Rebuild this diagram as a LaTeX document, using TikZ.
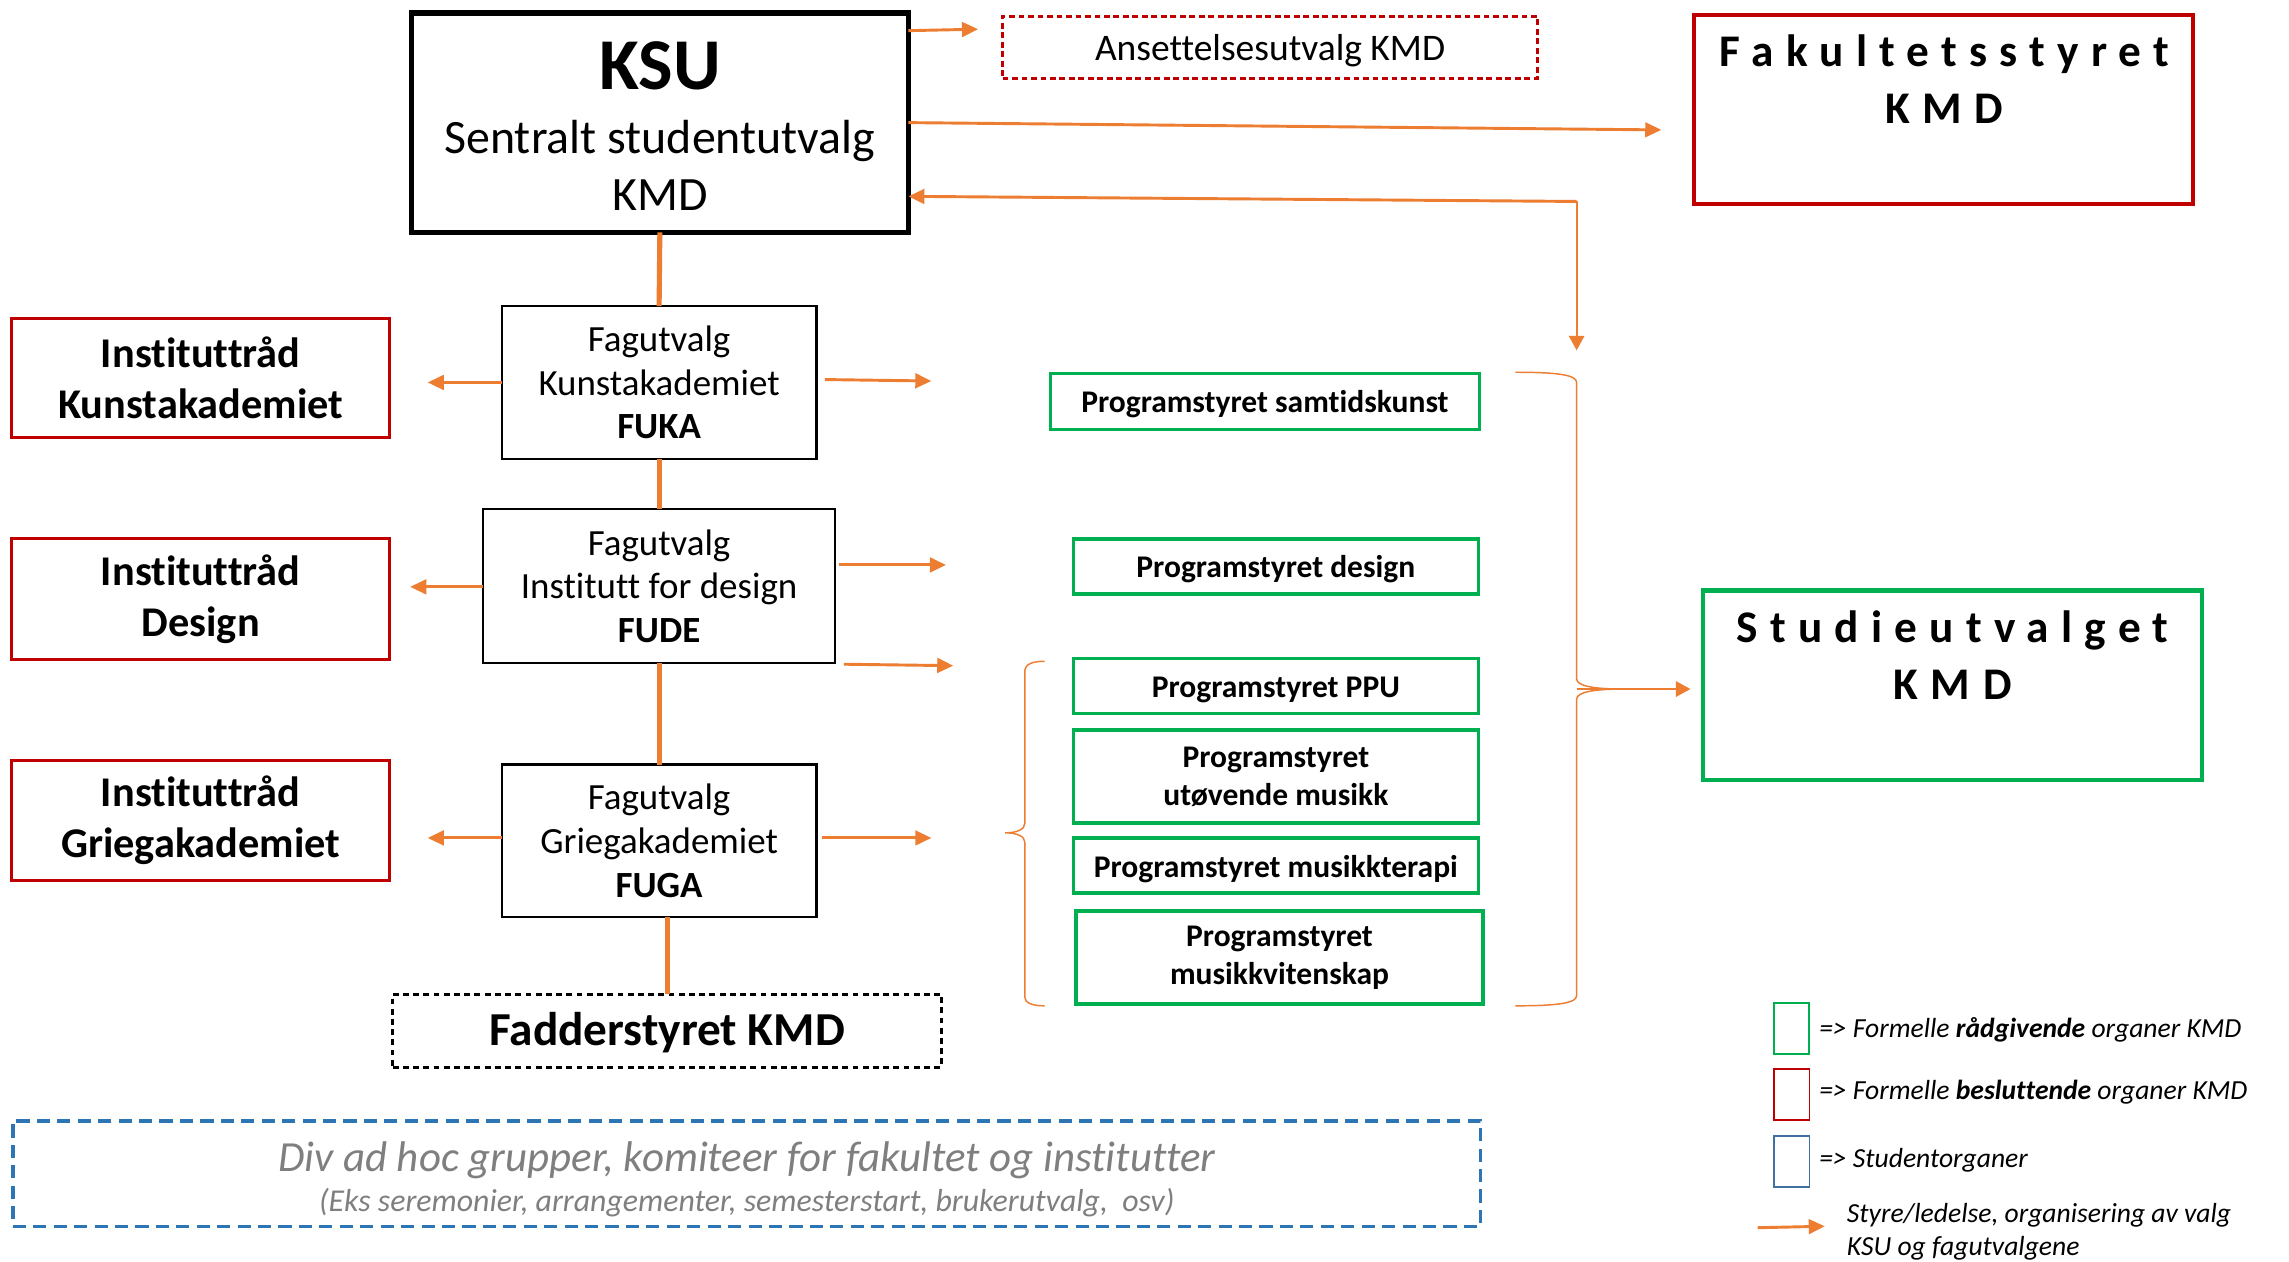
\documentclass[tikz,border=0pt]{standalone}
\usepackage{fontspec}
\setmainfont{Carlito}[Ligatures={NoCommon}]
\usetikzlibrary{arrows.meta,calc}
\definecolor{kor}{HTML}{ED7D31}
\definecolor{kred}{HTML}{C00000}
\definecolor{kgreen}{HTML}{00B050}
\definecolor{kblue}{HTML}{2E75B6}
\definecolor{lblue}{HTML}{41719C}
\definecolor{kgrey}{HTML}{7F7F7F}
\newcommand{\myfs}[2]{\fontsize{#1}{#2}\selectfont}
\begin{document}
\begin{tikzpicture}[x=1pt,y=-1pt,
  box/.style={draw,rectangle,inner sep=0pt,outer sep=0pt,align=center,anchor=center},
  ksubox/.style={box,line width=3.75pt,minimum width=340.5pt,minimum height=150.5pt},
  ansbox/.style={box,draw=kred,line width=1.5pt,dash pattern=on 4pt off 2.5pt,minimum width=366.5pt,minimum height=42.5pt,font=\myfs{25.7}{30},text height=21.5pt,text depth=3pt},
  bigred/.style={box,draw=kred,line width=2.75pt,minimum width=342pt,minimum height=129pt},
  biggreen/.style={box,draw=kgreen,line width=3pt,minimum width=342pt,minimum height=130pt},
  instbox/.style={box,draw=kred,line width=2pt,minimum width=259pt,minimum height=82pt,font=\myfs{29}{35}\bfseries},
  fagbox/.style={box,line width=1.5pt,minimum width=215.5pt,minimum height=104.5pt,font=\myfs{25.3}{30}},
  psbox/.style={box,draw=kgreen,line width=2.4pt,minimum width=277.6pt,minimum height=37.6pt,font=\myfs{21.6}{26}\bfseries},
  psone/.style={text height=17pt,text depth=1.3pt},
  link/.style={draw=kor,line width=3.5pt},
  arr/.style={draw=kor,line width=2pt,-{Triangle[length=11pt,width=10pt]}},
  arrthin/.style={draw=kor,line width=1.5pt,-{Triangle[length=10pt,width=10.5pt]}},
  bracestyle/.style={draw=kor,line width=1pt},
  legbox/.style={box,line width=1.3pt,minimum width=24pt,minimum height=35pt},
  legtext/.style={anchor=west,inner sep=0pt,font=\myfs{18.9}{22.5}\itshape,align=left}
]
\fill[white] (0,0) rectangle (1568,864);
\useasboundingbox (0,0) rectangle (1568,864);

% ---- top row
\node[ksubox] (ksu) at (452,84) {};
\node[anchor=base,inner sep=0pt,font=\myfs{50}{50}\bfseries] (ksut1) at (452,61) {KSU};
\node[anchor=base,inner sep=0pt,font=\myfs{32.8}{38}] (ksut2) at (452,105) {Sentralt studentutvalg};
\node[anchor=base,inner sep=0pt,font=\myfs{32.8}{38}] (ksut3) at (452,144) {KMD};

\node[ansbox] (ans) at (870,32.5) {Ansettelsesutvalg KMD};

\node[bigred] (fak) at (1331.5,75) {};
\node[anchor=base,inner sep=0pt,font=\myfs{31}{38}\bfseries\addfontfeatures{LetterSpace=27}] (fakt1) at (1332,45.7) {Fakultetsstyret};
\node[anchor=base,inner sep=0pt,font=\myfs{31}{38}\bfseries\addfontfeatures{LetterSpace=27}] (fakt2) at (1332,84.5) {KMD};

\node[biggreen] (stu) at (1337.5,469.5) {};
\node[anchor=base,inner sep=0pt,font=\myfs{31}{38}\bfseries\addfontfeatures{LetterSpace=27}] (stut1) at (1337.5,440) {Studieutvalget};
\node[anchor=base,inner sep=0pt,font=\myfs{31}{38}\bfseries\addfontfeatures{LetterSpace=28}] (stut2) at (1337.5,479) {KMD};

% ---- left column
\node[instbox] (inst1) at (137.5,259) {Instituttråd\\Kunstakademiet};
\node[instbox,minimum height=83pt] (inst2) at (137.5,410.5) {Instituttråd\\Design};
\node[instbox] (inst3) at (137.5,562) {Instituttråd\\Griegakademiet};

% ---- fagutvalg
\node[fagbox] (fuka) at (451.5,262) {Fagutvalg\\Kunstakademiet\\\textbf{FUKA}};
\node[fagbox,minimum width=241.5pt,minimum height=105.5pt] (fude) at (451.5,401.5) {Fagutvalg\\Institutt for design\\\textbf{FUDE}};
\node[fagbox] (fuga) at (451.5,576) {Fagutvalg\\Griegakademiet\\\textbf{FUGA}};

\node[box,line width=2pt,dash pattern=on 4pt off 3pt,minimum width=376pt,minimum height=50pt,font=\myfs{32.4}{38}\bfseries,text height=24pt,text depth=4pt] (fad) at (457,706) {Fadderstyret KMD};

\node[box,draw=kblue,line width=2.5pt,dash pattern=on 9pt off 5pt,minimum width=1005.5pt,minimum height=72.5pt] (adhoc) at (511.5,804) {};
\node[inner sep=0pt,font=\myfs{29.4}{32}\itshape,text=kgrey] (adhoc1) at (511.5,794.5) {Div ad hoc grupper, komiteer for fakultet og institutter};
\node[inner sep=0pt,font=\myfs{21.8}{24}\itshape,text=kgrey] (adhoc2) at (511.5,824) {(Eks seremonier, arrangementer, semesterstart, brukerutvalg,\ \ osv)};

% ---- programstyrer
\node[psbox,psone,minimum width=293.6pt,minimum height=38.6pt] (ps1) at (866.5,275) {Programstyret samtidskunst};
\node[psbox,psone] (ps2) at (874,388) {Programstyret design};
\node[psbox,psone] (ps3) at (874,470) {Programstyret PPU};
\node[psbox,minimum height=63.6pt] (ps4) at (874,532) {Programstyret\\utøvende musikk};
\node[psbox,psone] (ps5) at (874,593) {Programstyret musikkterapi};
\node[psbox,minimum width=278.6pt,minimum height=63.6pt] (ps6) at (876.5,656) {Programstyret\\musikkvitenskap};

% ---- vertical links
\draw[link] (ksu.south) -- (fuka.north);
\draw[link] (fuka.south) -- (fude.north);
\draw[link] (fude.south) -- (fuga.north);
\draw[link] (fad.north |- fuga.south) -- (fad.north);

% ---- arrows from KSU
\coordinate (cans) at (670,20);
\coordinate (cfak) at (1138,89);
\coordinate (cj) at (1080,138);
\coordinate (cdown) at (1080,240);
\draw[arr] (ksu.east |- 0,21) -- (cans);
\draw[arr] (ksu.east) -- (cfak);
\draw[arr] (cj) -- (ksu.east |- 0,134.5);
\draw[arrthin] (cj) -- (cdown);

% ---- arrows from fagutvalg
\coordinate (cl1) at (293,262);
\coordinate (cl2) at (281,402);
\coordinate (cl3) at (293,574);
\draw[arr] (fuka.west) -- (cl1);
\draw[arr] (fude.west |- 0,402) -- (cl2);
\draw[arr] (fuga.west |- 0,574) -- (cl3);

\coordinate (sr1) at (565,260);  \coordinate (er1) at (638,261);
\coordinate (sr2) at (575,387);  \coordinate (er2) at (648,387);
\coordinate (sr3) at (578,455);  \coordinate (er3) at (653,456);
\coordinate (sr4) at (563,574);  \coordinate (er4) at (638,574);
\draw[arr] (sr1) -- (er1);
\draw[arr] (sr2) -- (er2);
\draw[arr] (sr3) -- (er3);
\draw[arr] (sr4) -- (er4);

% ---- braces
\draw[bracestyle] (715.5,453) .. controls (707,453) and (702,455) .. (702,460) -- (702,564)
  .. controls (702,568) and (697,570.5) .. (688.5,570.5)
  .. controls (697,570.5) and (702,573) .. (702,577) -- (702,683)
  .. controls (702,687) and (707,689) .. (715.5,689);
\draw[bracestyle] (1038,255) .. controls (1068,255) and (1080,257) .. (1080,262) -- (1080,465)
  .. controls (1080,470) and (1092,472) .. (1112,472)
  .. controls (1092,472) and (1080,474) .. (1080,479) -- (1080,682)
  .. controls (1080,687) and (1068,689) .. (1038,689);
\coordinate (btip) at (1080,472);
\coordinate (cstu) at (1158,472);
\draw[arrthin] (btip) -- (cstu);

% ---- legend
\node[legbox,draw=kgreen] (lg1) at (1227,704.5) {};
\node[legbox,draw=kred] (lg2) at (1227.5,749.5) {};
\node[legbox,draw=lblue] (lg3) at (1227.5,795.5) {};
\node[legtext] (lt1) at (1246,705.5) {=> Formelle \textbf{rådgivende} organer KMD};
\node[legtext] (lt2) at (1246,748) {=> Formelle \textbf{besluttende} organer KMD};
\node[legtext] (lt3) at (1246,794.5) {=> Studentorganer};
\coordinate (la1) at (1204,841);
\coordinate (la2) at (1250,840);
\draw[arr] (la1) -- (la2);
\node[legtext] (lt4) at (1265,843.5) {Styre/ledelse, organisering av valg\\KSU og fagutvalgene};
\end{tikzpicture}
\end{document}
